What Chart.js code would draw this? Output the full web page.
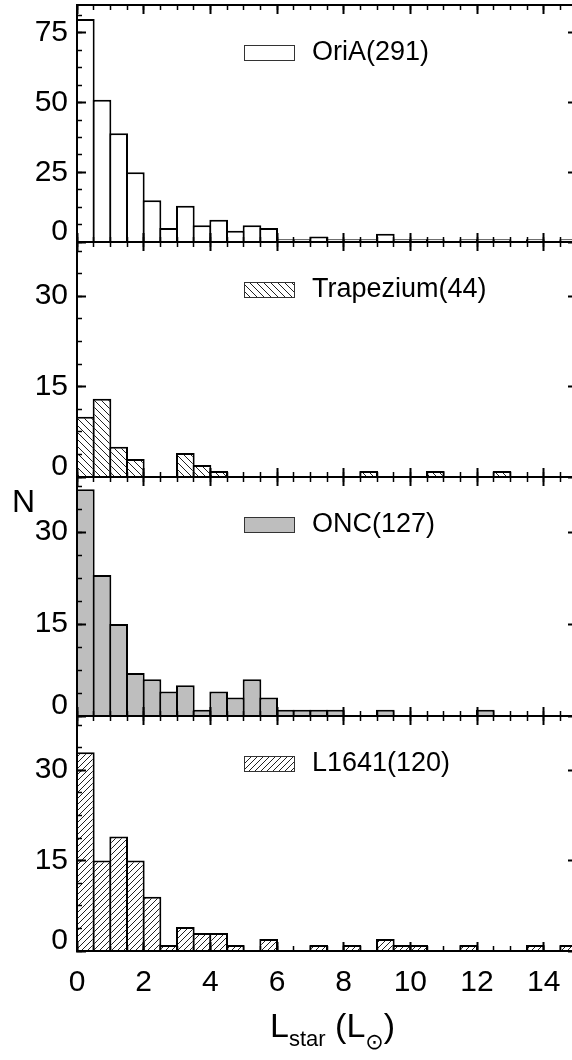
<!DOCTYPE html>
<html>
<head>
<meta charset="utf-8">
<script src="https://cdn.jsdelivr.net/npm/chart.js@4.4.1/dist/chart.umd.min.js"></script>
<style>
  html, body { margin: 0; padding: 0; background: #fff; }
  body { width: 572px; height: 1060px; overflow: hidden; position: relative; font-family: "Liberation Sans", Arial, sans-serif; }
  canvas { position: absolute; left: 0; }
  #titreY { position: absolute; left: 12px; top: 485px; font-size: 32px; line-height: 1; }
  #titreX { position: absolute; left: 270px; top: 1008px; font-size: 34px; line-height: 1; white-space: nowrap; }
  #titreX sub { font-size: 22px; vertical-align: -9px; }
  #titreX .sol { font-family: "DejaVu Sans", sans-serif; font-size: 22px; vertical-align: -12px; }
</style>
</head>
<body>
<canvas id="p1"></canvas>
<canvas id="p2"></canvas>
<canvas id="p3"></canvas>
<canvas id="p4"></canvas>
<div id="titreY">N</div>
<div id="titreX">L<sub>star</sub> (L<span class="sol">⊙</span>)</div>

<script>
// Centres des intervalles (largeur 0.5 Lsol)
const centres = [0.25, 0.75, 1.25, 1.75, 2.25, 2.75, 3.25, 3.75, 4.25, 4.75,
                 5.25, 5.75, 6.25, 6.75, 7.25, 7.75, 8.25, 8.75, 9.25, 9.75,
                 10.25, 10.75, 11.25, 11.75, 12.25, 12.75, 13.25, 13.75, 14.25, 14.75];

// Nombre d'étoiles par intervalle
const oriA = [80, 51, 39, 25, 15, 5, 13, 6, 8, 4, 6, 5, 1, 1, 2, 1, 1, 1, 3, 1, 1, 1, 0, 1, 1, 1, 0, 1, 0, 1];
const trapezium = [10, 13, 5, 3, 0, 0, 4, 2, 1, 0, 0, 0, 0, 0, 0, 0, 0, 1, 0, 0, 0, 1, 0, 0, 0, 1, 0, 0, 0, 0];
const onc = [37, 23, 15, 7, 6, 4, 5, 1, 4, 3, 6, 3, 1, 1, 1, 1, 0, 0, 1, 0, 0, 0, 0, 0, 1, 0, 0, 0, 0, 0];
const l1641 = [33, 15, 19, 15, 9, 1, 4, 3, 3, 1, 0, 2, 0, 0, 1, 0, 1, 0, 2, 1, 1, 0, 0, 1, 0, 0, 0, 1, 0, 1];

const etiquettes = ['OriA(291)', 'Trapezium(44)', 'ONC(127)', 'L1641(120)'];
const xTicksMajeurs = 2;
const xTicksMineurs = 0.5;
const xMax = 15;

Chart.defaults.font.family = '"Liberation Sans", Arial, sans-serif';
Chart.defaults.color = '#000';

// Motif hachuré pour le remplissage
function hachures(sens, pas) {
  const c = document.createElement('canvas');
  c.width = pas;
  c.height = pas;
  const g = c.getContext('2d');
  g.fillStyle = '#fff';
  g.fillRect(0, 0, pas, pas);
  g.strokeStyle = '#222';
  g.lineWidth = 1;
  g.beginPath();
  if (sens === '\\') {
    g.moveTo(-1, -1); g.lineTo(pas + 1, pas + 1);
    g.moveTo(-1, pas - 1); g.lineTo(1, pas + 1);
    g.moveTo(pas - 1, -1); g.lineTo(pas + 1, 1);
  } else {
    g.moveTo(-1, pas + 1); g.lineTo(pas + 1, -1);
    g.moveTo(-1, 1); g.lineTo(1, -1);
    g.moveTo(pas - 1, pas + 1); g.lineTo(pas + 1, pas - 1);
  }
  g.stroke();
  return g.createPattern(c, 'repeat');
}

// Légende dessinée dans le cadre
const legendeInterne = {
  id: 'legendeInterne',
  afterDraw(chart) {
    const ctx = chart.ctx;
    const ds = chart.data.datasets[0];
    const a = chart.chartArea;
    const x = a.left + 167;
    const y = a.top + 40;
    ctx.save();
    ctx.fillStyle = ds.backgroundColor;
    ctx.fillRect(x, y, 50, 15);
    ctx.strokeStyle = '#333';
    ctx.lineWidth = 1;
    ctx.strokeRect(x + 0.5, y + 0.5, 50, 15);
    ctx.fillStyle = '#000';
    ctx.font = '27px "Liberation Sans", Arial, sans-serif';
    ctx.textBaseline = 'middle';
    ctx.fillText(ds.label, x + 68, y + 8);
    ctx.restore();
  }
};

// taille = place réservée à l'axe (0 pour les axes sans étiquettes)
function echelle(axe, position, max, pas, majeur, bordure, labels, taille, poids) {
  return {
    type: 'linear',
    axis: axe,
    position: position,
    weight: poids,
    min: 0,
    max: max,
    offset: false,
    grid: {
      display: true,
      offset: false,
      drawOnChartArea: false,
      drawTicks: true,
      tickLength: majeur ? -9 : -5,
      tickWidth: majeur ? 2 : 1.5,
      tickColor: '#000',
      z: 1
    },
    border: { display: bordure, color: '#000', width: 2, z: 1 },
    ticks: {
      display: labels,
      stepSize: pas,
      includeBounds: false,
      autoSkip: false,
      maxRotation: 0,
      color: '#000',
      padding: axe === 'x' ? 30 : 18,
      font: { size: 30, lineHeight: 0.7 },
      callback: function(v) { return v === 0 && axe === 'y' ? ['0', ''] : String(v); }
    },
    afterFit: function(s) {
      if (s.isHorizontal()) s.height = taille; else s.width = taille;
      s.paddingTop = 0;
      s.paddingBottom = 0;
      s.paddingLeft = 0;
      s.paddingRight = 0;
    }
  };
}

function panneau(id, haut, bas, valeurs, fond, label, yMax, pasMaj, pasMin, dernier) {
  const canvas = document.getElementById(id);
  const basX = dernier ? 75 : 0;
  canvas.width = 590;
  canvas.height = (bas - haut) + 20 + (dernier ? basX : 20);
  canvas.style.top = (haut - 20) + 'px';

  const points = centres.map((c, i) => ({ x: c, y: valeurs[i] }));

  new Chart(canvas.getContext('2d'), {
    type: 'bar',
    data: {
      datasets: [{
        label: label,
        data: points,
        backgroundColor: fond,
        borderColor: '#000',
        borderWidth: 2,
        barPercentage: 1.12,
        categoryPercentage: 1,
        xAxisID: 'x',
        yAxisID: 'y'
      }]
    },
    options: {
      responsive: false,
      animation: false,
      events: [],
      layout: { padding: { left: 0, right: 13, top: 20, bottom: dernier ? 0 : 20 } },
      plugins: { legend: { display: false }, tooltip: { enabled: false } },
      scales: {
        x: echelle('x', 'bottom', xMax, xTicksMajeurs, true, true, dernier, basX, 1),
        xm: echelle('x', 'bottom', xMax, xTicksMineurs, false, false, false, 0, 0),
        xt: echelle('x', 'top', xMax, xTicksMajeurs, true, true, false, 0, 0),
        xtm: echelle('x', 'top', xMax, xTicksMineurs, false, false, false, 0, 0),
        y: echelle('y', 'left', yMax, pasMaj, true, true, true, 77, 1),
        ym: echelle('y', 'left', yMax, pasMin, false, false, false, 0, 0),
        yr: echelle('y', 'right', yMax, pasMaj, true, true, false, 0, 0),
        yrm: echelle('y', 'right', yMax, pasMin, false, false, false, 0, 0)
      }
    },
    plugins: [legendeInterne]
  });
}

panneau('p1', 5, 242, oriA, '#fff', etiquettes[0], 85, 25, 6.25, false);
panneau('p2', 242, 477, trapezium, hachures('\\', 7), etiquettes[1], 39, 15, 3.75, false);
panneau('p3', 477, 716, onc, '#bebebe', etiquettes[2], 39, 15, 3.75, false);
panneau('p4', 716, 951, l1641, hachures('/', 6), etiquettes[3], 39, 15, 3.75, true);
</script>
</body>
</html>
